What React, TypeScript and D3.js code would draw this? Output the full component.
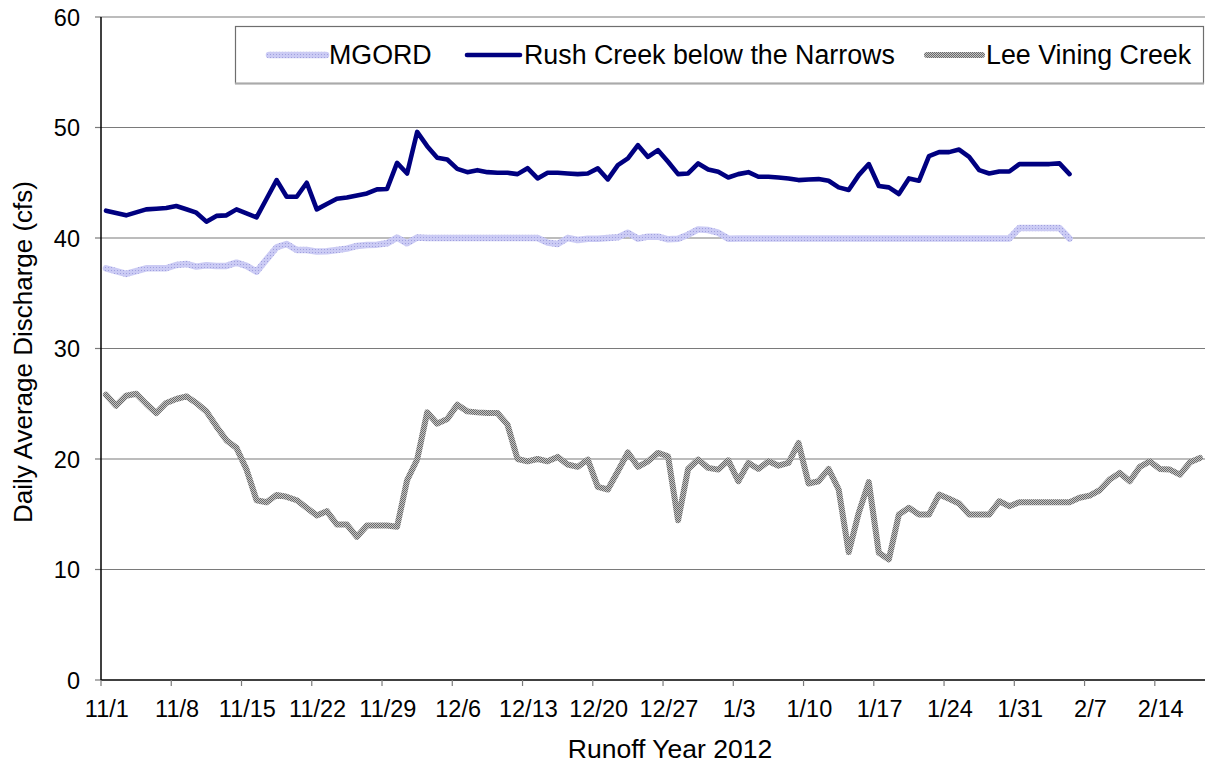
import React from "react";
import * as d3 from "d3";

// ---- data (daily average discharge, cfs), starting 11/1 ----
const startDate = new Date(2011, 10, 1);
const totalDays = 110; // axis span: 11/1 .. 2/18

const mgord: number[] = [
  37.26, 37.0, 36.75, 37.0, 37.26, 37.26, 37.26, 37.56, 37.65, 37.41,
  37.53, 37.47, 37.47, 37.77, 37.47, 36.96, 38.07, 39.16, 39.46, 38.92,
  38.92, 38.77, 38.8, 38.92, 39.04, 39.28, 39.37, 39.4, 39.52, 40.03,
  39.52, 40.05, 40.0, 40.0, 40.0, 40.0, 40.0, 40.0, 40.0, 40.0,
  40.0, 40.0, 40.0, 40.0, 39.58, 39.46, 40.0, 39.82, 39.94, 39.94,
  40.0, 40.06, 40.48, 39.94, 40.12, 40.12, 39.88, 39.94, 40.3, 40.78,
  40.72, 40.48, 39.94, 39.95, 39.95, 39.95, 39.95, 39.95, 39.95, 39.95,
  39.95, 39.95, 39.95, 39.95, 39.95, 39.95, 39.95, 39.95, 39.95, 39.95,
  39.95, 39.95, 39.95, 39.95, 39.95, 39.95, 39.95, 39.95, 39.95, 39.95,
  39.95, 40.9, 40.9, 40.9, 40.9, 40.9, 39.95,
];

const rush: number[] = [
  42.47, 42.26, 42.05, 42.32, 42.59, 42.65, 42.71, 42.89, 42.6, 42.29,
  41.48, 42.0, 42.05, 42.59, 42.23, 41.87, 43.55, 45.24, 43.73, 43.73,
  45.0, 42.59, 43.07, 43.55, 43.67, 43.85, 44.03, 44.4, 44.43, 46.8,
  45.84, 49.6, 48.31, 47.26, 47.1, 46.26, 45.96, 46.14, 45.96, 45.9,
  45.9, 45.78, 46.32, 45.39, 45.9, 45.9, 45.84, 45.78, 45.84, 46.3,
  45.3, 46.6, 47.2, 48.4, 47.34, 47.95, 46.9, 45.78, 45.84, 46.75,
  46.2, 45.99, 45.48, 45.78, 45.96, 45.54, 45.54, 45.48, 45.39, 45.24,
  45.3, 45.33, 45.18, 44.58, 44.34, 45.69, 46.69, 44.7, 44.58, 43.98,
  45.39, 45.18, 47.41, 47.77, 47.77, 48.0, 47.34, 46.14, 45.84, 46.02,
  46.02, 46.69, 46.69, 46.69, 46.69, 46.75, 45.78,
];

const leeVining: number[] = [
  25.82, 24.82, 25.73, 25.91, 25.0, 24.16, 25.07, 25.43, 25.67, 25.07,
  24.31, 22.95, 21.69, 21.0, 19.04, 16.27, 16.09, 16.75, 16.58, 16.27,
  15.58, 14.89, 15.28, 14.07, 14.07, 12.96, 13.98, 13.98, 13.98, 13.87,
  18.08, 19.95, 24.22, 23.2, 23.62, 24.91, 24.31, 24.22, 24.16, 24.16,
  23.11, 20.0, 19.79, 20.0, 19.79, 20.19, 19.5, 19.29, 19.95, 17.48,
  17.24, 18.89, 20.6, 19.29, 19.79, 20.55, 20.25, 14.46, 19.1, 19.95,
  19.2, 19.04, 19.88, 17.99, 19.65, 19.1, 19.79, 19.4, 19.65, 21.45,
  17.78, 17.99, 19.1, 17.24, 11.57, 15.13, 17.9, 11.52, 10.91, 14.98,
  15.58, 14.98, 14.98, 16.78, 16.4, 15.97, 14.98, 14.98, 14.98, 16.18,
  15.73, 16.09, 16.09, 16.09, 16.09, 16.09, 16.09, 16.49, 16.69, 17.17,
  18.14, 18.74, 17.99, 19.29, 19.79, 19.1, 19.04, 18.59, 19.7, 20.1,
];

const yTicks: number[] = [0, 10, 20, 30, 40, 50, 60];
const xTickDayOffsets: number[] = [0, 7, 14, 21, 28, 35, 42, 49, 56, 63, 70, 77, 84, 91, 98, 105];

const seriesNames = ["MGORD", "Rush Creek below the Narrows", "Lee Vining Creek"];

const W = 1213;
const H = 770;
const plot = { left: 101, right: 1205, top: 17, bottom: 680 };
const font = "Arial, 'Liberation Sans', Helvetica, sans-serif";

export default function App() {
  const endDate = d3.timeDay.offset(startDate, totalDays);
  const x = d3.scaleTime().domain([startDate, endDate]).range([plot.left, plot.right]);
  const y = d3.scaleLinear().domain([0, 60]).range([plot.bottom, plot.top]);

  // points sit in the middle of each day slot
  const dayCenter = (i: number) => x(d3.timeHour.offset(d3.timeDay.offset(startDate, i), 12));

  const line = d3
    .line<number>()
    .x((_, i) => dayCenter(i))
    .y((v) => y(v));

  const fmt = d3.timeFormat("%-m/%-d");
  const tickDates = xTickDayOffsets.map((o) => d3.timeDay.offset(startDate, o));

  return (
    <svg
      width={W}
      height={H}
      style={{ position: "absolute", left: 0, top: 0, background: "#fff" }}
      fontFamily={font}
    >
      <defs>
        <pattern id="leePat" patternUnits="userSpaceOnUse" width="2" height="2">
          <rect width="2" height="2" fill="#c4c4c4" />
          <rect width="1" height="1" fill="#6a6a6a" />
          <rect x="1" y="1" width="1" height="1" fill="#6a6a6a" />
        </pattern>
        <pattern id="mgPat" patternUnits="userSpaceOnUse" width="3" height="3">
          <rect width="3" height="3" fill="#cbcbf4" />
          <rect width="1" height="1" fill="#a0a0de" />
        </pattern>
      </defs>

      {/* gridlines */}
      {yTicks.map((t) => (
        <g key={`g${t}`}>
          {t > 0 && (
            <line x1={plot.left} x2={plot.right} y1={y(t)} y2={y(t)} stroke="#7a7a7a" strokeWidth={1.2} />
          )}
          <line x1={plot.left - 6} x2={plot.left} y1={y(t)} y2={y(t)} stroke="#7a7a7a" strokeWidth={1.2} />
          <text x={80} y={y(t) + 8.5} textAnchor="end" fontSize={23.5} fill="#000">
            {t}
          </text>
        </g>
      ))}

      {/* x axis */}
      <line x1={plot.left} x2={plot.right} y1={plot.bottom} y2={plot.bottom} stroke="#000" strokeWidth={1.5} />
      {tickDates.map((dt, i) => (
        <g key={`x${i}`}>
          <line x1={x(dt)} x2={x(dt)} y1={plot.bottom} y2={plot.bottom + 6} stroke="#7a7a7a" strokeWidth={1.2} />
          <text
            x={x(d3.timeHour.offset(dt, 14))}
            y={716.5}
            textAnchor="middle"
            fontSize={23.5}
            fill="#000"
          >
            {fmt(dt)}
          </text>
        </g>
      ))}
      {/* y axis */}
      <line x1={plot.left} x2={plot.left} y1={plot.top} y2={plot.bottom} stroke="#000" strokeWidth={1.5} />

      {/* series */}
      <path d={line(leeVining) || ""} fill="none" stroke="url(#leePat)" strokeWidth={6} strokeLinejoin="round" strokeLinecap="round" />
      <path d={line(mgord) || ""} fill="none" stroke="url(#mgPat)" strokeWidth={6.5} strokeLinejoin="round" strokeLinecap="round" />
      <path d={line(rush) || ""} fill="none" stroke="#000080" strokeWidth={4.6} strokeLinejoin="round" strokeLinecap="round" />

      {/* axis titles */}
      <text x={670} y={758} textAnchor="middle" fontSize={26.5} fill="#000">
        Runoff Year 2012
      </text>
      <text transform="translate(32,352) rotate(-90)" textAnchor="middle" fontSize={26} fill="#000">
        Daily Average Discharge (cfs)
      </text>

      {/* legend */}
      <rect x={235.5} y={26.5} width={968} height={57} fill="#fff" stroke="#6e6e6e" strokeWidth={1.2} />
      <line x1={235} x2={1204} y1={83.5} y2={83.5} stroke="#aaaaaa" strokeWidth={2} />
      <line x1={269} x2={326} y1={55} y2={55} stroke="url(#mgPat)" strokeWidth={6.5} strokeLinecap="round" />
      <text x={329} y={64} fontSize={26.8} fill="#000">{seriesNames[0]}</text>
      <line x1={467} x2={520} y1={55} y2={55} stroke="#000080" strokeWidth={4.6} strokeLinecap="round" />
      <text x={524} y={64} fontSize={26.8} fill="#000">{seriesNames[1]}</text>
      <line x1={927} x2={982} y1={55} y2={55} stroke="url(#leePat)" strokeWidth={6} strokeLinecap="round" />
      <text x={986} y={64} fontSize={26.8} fill="#000">{seriesNames[2]}</text>
    </svg>
  );
}
